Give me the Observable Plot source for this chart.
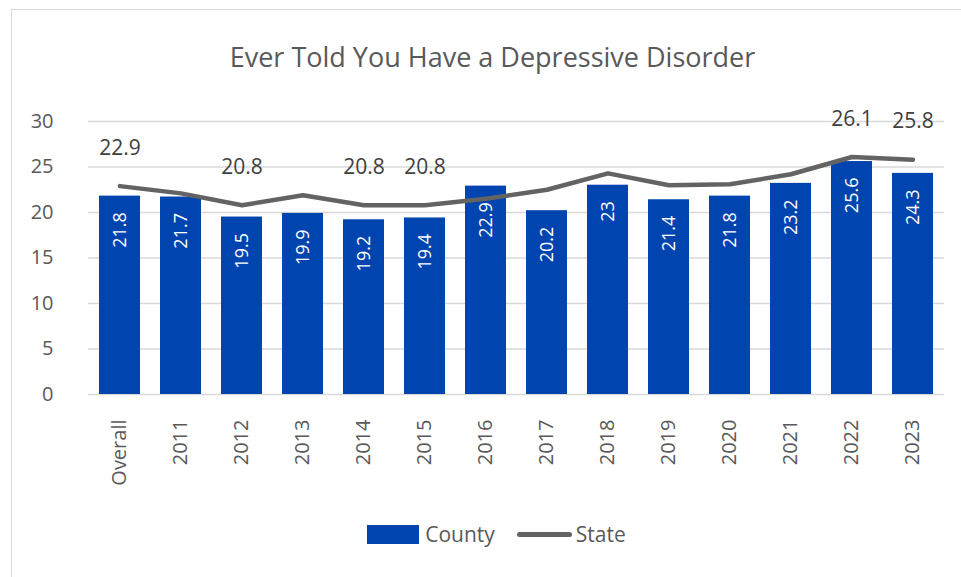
<!DOCTYPE html>
<html>
<head>
<meta charset="utf-8">
<script src="https://cdn.jsdelivr.net/npm/d3@7"></script>
<script src="https://cdn.jsdelivr.net/npm/@observablehq/plot@0.6"></script>
<style>
  html, body { margin: 0; padding: 0; background: #fff; overflow: hidden; }
  body { width: 961px; height: 577px; position: relative; font-family: "Open Sans", sans-serif; }
  #frame { position: absolute; left: 11px; top: 9px; width: 1100px; height: 1100px; border: 1.5px solid #d9d9d9; box-sizing: border-box; }
  #title { position: relative; height: 100px; }
  #title span { position: absolute; left: 24px; right: 0; top: 38px; text-align: center; font-size: 27px; line-height: 37px; color: #595959; }
  #chart { position: relative; height: 410px; }
  #legend { position: relative; height: 26px; margin-top: 11px; padding-left: 32px; display: flex; justify-content: center; align-items: center; font-size: 21px; line-height: 26px; color: #595959; }
  .sw-bar { width: 52px; height: 19px; background: #0044b0; margin-right: 6px; }
  .sw-line { width: 55px; height: 5px; border-radius: 3px; background: #636363; margin-left: 22px; margin-right: 4px; }
</style>
</head>
<body>
<div id="frame"></div>
<div id="title"><span>Ever Told You Have a Depressive Disorder</span></div>
<div id="chart"></div>
<div id="legend"><div class="sw-bar"></div><span>County</span><div class="sw-line"></div><span>State</span></div>
<script>
const categories = ["Overall","2011","2012","2013","2014","2015","2016","2017","2018","2019","2020","2021","2022","2023"];
const county = [21.8,21.7,19.5,19.9,19.2,19.4,22.9,20.2,23,21.4,21.8,23.2,25.6,24.3];
const state = [22.9,22.1,20.8,21.9,20.8,20.8,21.5,22.5,24.3,23.0,23.1,24.2,26.1,25.8];
const stateLabeled = ["Overall","2012","2014","2015","2022","2023"];
const yTicks = [0,5,10,15,20,25,30];

const rows = categories.map((c, i) => ({cat: c, county: county[i], state: state[i]}));
const labeledRows = rows.filter(d => stateLabeled.includes(d.cat));

const plot = Plot.plot({
  width: 961,
  height: 410,
  marginTop: 21,
  marginBottom: 116,
  marginLeft: 88,
  marginRight: 17,
  style: {fontFamily: "Open Sans, sans-serif", color: "#595959", background: "transparent"},
  x: {domain: categories, paddingInner: 0.33, paddingOuter: 0.165, label: null},
  y: {domain: [0, 30], label: null},
  marks: [
    Plot.gridY(yTicks, {stroke: "#d9d9d9", strokeOpacity: 1, strokeWidth: 1.5}),
    Plot.barY(rows, {x: "cat", y: "county", fill: "#0044b0"}),
    Plot.text(rows, {x: "cat", y: "county", text: d => String(d.county), rotate: -90, textAnchor: "end", dy: 16, fill: "white", fontSize: 18}),
    Plot.line(rows, {x: "cat", y: "state", stroke: "#636363", strokeWidth: 4.5, strokeLinecap: "round", strokeLinejoin: "round"}),
    Plot.text(labeledRows, {x: "cat", y: "state", text: d => d.state.toFixed(1), dy: -38, fill: "#404040", fontSize: 21}),
    Plot.axisY({ticks: yTicks, tickSize: 0, tickPadding: 35, fontSize: 20, fill: "#595959"}),
    Plot.axisX({tickSize: 0, tickPadding: 25, tickRotate: -90, fontSize: 20, fill: "#595959"})
  ]
});
document.getElementById("chart").appendChild(plot);
</script>
</body>
</html>
